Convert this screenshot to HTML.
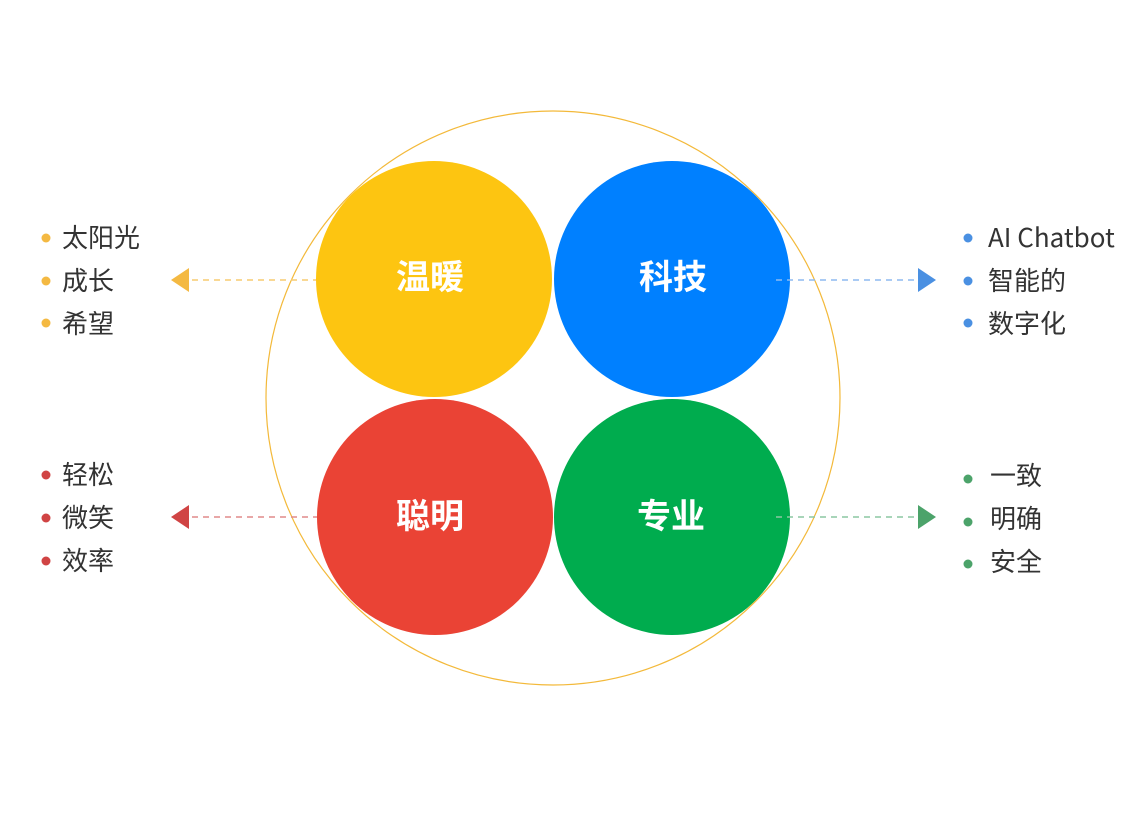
<!DOCTYPE html>
<html><head><meta charset="utf-8"><style>
html,body{margin:0;padding:0;background:#fff;}
svg text{font-family:"Liberation Sans","Noto Sans CJK SC",sans-serif;}
svg text.l{font-family:"Noto Sans CJK SC",sans-serif;}
</style></head><body>
<svg width="1136" height="816" viewBox="0 0 1136 816" xmlns="http://www.w3.org/2000/svg">
<rect width="1136" height="816" fill="#fff"/>
<circle cx="434" cy="279" r="118" fill="#FDC511"/>
<circle cx="672" cy="279" r="118" fill="#0080FF"/>
<circle cx="435" cy="517" r="118" fill="#EA4335"/>
<circle cx="672" cy="517" r="118" fill="#00AC4E"/>
<circle cx="553" cy="398" r="287" fill="none" stroke="#F3B93A" stroke-width="1.2"/>
<g stroke-width="1.5" stroke-dasharray="6 5">
<line x1="192" y1="280" x2="316" y2="280" stroke="#F7CC70"/>
<line x1="776" y1="280" x2="918" y2="280" stroke="#8DBAF0"/>
<line x1="192" y1="517" x2="317" y2="517" stroke="#E08A8A"/>
<line x1="776" y1="517" x2="918" y2="517" stroke="#8CC7A2"/>
</g>
<polygon points="171,280 189,268 189,292" fill="#F4B942"/>
<polygon points="936,280 918,268 918,292" fill="#4A90E2"/>
<polygon points="171,517 189,505 189,529" fill="#D04444"/>
<polygon points="936,517 918,505 918,529" fill="#4CA36A"/>
<g font-size="34" font-weight="bold" fill="#fff" text-anchor="middle">
<text x="430" y="289">温暖</text>
<text x="673" y="289">科技</text>
<text x="430" y="528">聪明</text>
<text x="671" y="528">专业</text>
</g>
<g fill="#F4B942"><circle cx="46" cy="238" r="4.5"/><circle cx="46" cy="281" r="4.5"/><circle cx="46" cy="323" r="4.5"/></g>
<g fill="#4A90E2"><circle cx="968" cy="238" r="4.5"/><circle cx="968" cy="281" r="4.5"/><circle cx="968" cy="323" r="4.5"/></g>
<g fill="#D04444"><circle cx="46" cy="475" r="4.5"/><circle cx="46" cy="518" r="4.5"/><circle cx="46" cy="561" r="4.5"/></g>
<g fill="#4CA36A"><circle cx="968" cy="479" r="4.5"/><circle cx="968" cy="522" r="4.5"/><circle cx="968" cy="564" r="4.5"/></g>
<g font-size="26" fill="#333">
<text class="l" x="62" y="247">太阳光</text>
<text class="l" x="62" y="290">成长</text>
<text class="l" x="62" y="333">希望</text>
<text class="l" x="62" y="484">轻松</text>
<text class="l" x="62" y="527">微笑</text>
<text class="l" x="62" y="570">效率</text>
<text class="l" x="988" y="247">AI Chatbot</text>
<text class="l" x="988" y="290">智能的</text>
<text class="l" x="988" y="333">数字化</text>
<text class="l" x="990" y="485">一致</text>
<text class="l" x="990" y="528">明确</text>
<text class="l" x="990" y="571">安全</text>
</g>
</svg>
</body></html>
